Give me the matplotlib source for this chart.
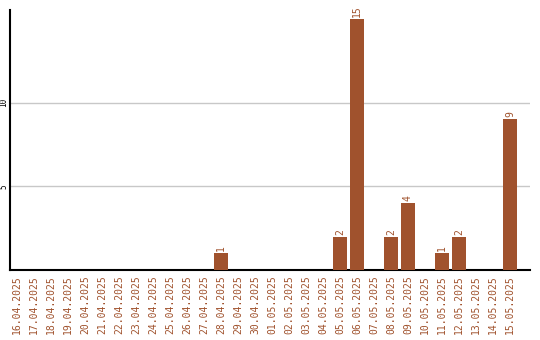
import matplotlib
matplotlib.use("Agg")
import matplotlib.pyplot as plt
import numpy as np

dates = ["16.04.2025", "17.04.2025", "18.04.2025", "19.04.2025", "20.04.2025",
         "21.04.2025", "22.04.2025", "23.04.2025", "24.04.2025", "25.04.2025",
         "26.04.2025", "27.04.2025", "28.04.2025", "29.04.2025", "30.04.2025",
         "01.05.2025", "02.05.2025", "03.05.2025", "04.05.2025", "05.05.2025",
         "06.05.2025", "07.05.2025", "08.05.2025", "09.05.2025", "10.05.2025",
         "11.05.2025", "12.05.2025", "13.05.2025", "14.05.2025", "15.05.2025"]
counts = [0, 0, 0, 0, 0, 0, 0, 0, 0, 0, 0, 0, 1, 0, 0,
          0, 0, 0, 0, 2, 15, 0, 2, 4, 0, 1, 2, 0, 0, 9]

color = "#A0522D"
plt.rcParams['font.family'] = ['DejaVu Sans Mono']

fig = plt.figure(figsize=(5.4, 3.4), dpi=100)
ax = fig.add_axes([10/540, 70/340, 520/540, 260/340])

x = np.arange(len(dates))
ax.bar(x, counts, width=0.82, color=color, zorder=3)
for i, v in enumerate(counts):
    if v > 0:
        ax.text(i, v + 0.12, str(v), rotation=90, ha='center', va='bottom',
                color=color, fontsize=7)

ax.set_xlim(-0.41, 30.18)
ax.set_ylim(0, 15.54)
ax.set_yticks([5, 10])
ax.set_yticklabels(["5", "10"], rotation=90, fontsize=5.5, va='center')
ax.tick_params(axis='y', length=0, pad=1)
ax.yaxis.grid(True, color="#c8c8c8", linewidth=1, zorder=0)
ax.set_xticks(x)
ax.set_xticklabels(dates, rotation=90, fontsize=7, color=color, va='top')
ax.tick_params(axis='x', length=0, pad=4)
for s in ['top', 'right']:
    ax.spines[s].set_visible(False)
ax.spines['left'].set_linewidth(1.5)
ax.spines['bottom'].set_linewidth(1.5)

fig.savefig("out.png", dpi=100)
